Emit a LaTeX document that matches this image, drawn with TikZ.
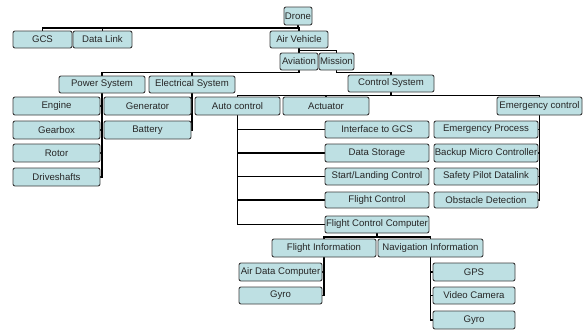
\documentclass[tikz,border=0pt]{standalone}
\usepackage{fontspec}
\setmainfont{Liberation Sans}
\pgfdeclarelayer{bg}
\pgfdeclarelayer{paper}
\pgfsetlayers{paper,bg,main}
\definecolor{boxfill}{RGB}{190,224,227}
\definecolor{boxline}{RGB}{60,60,60}
\newcommand{\mybox}[6]{%
  \node[box, minimum width={(#4-#2)*1pt}, minimum height={(#5-#3)*1pt}]
    (#1) at ({(#2+#4)/2},{(#3+#5)/2}) {#6};}
\begin{document}
\begin{tikzpicture}[x=1pt,y=-1pt,
  box/.style={draw=boxline, fill=boxfill, rounded corners=2pt, line width=0.9pt,
    inner sep=0pt, outer sep=0pt, font=\fontsize{9.6}{11}\selectfont, text=black!85},
  conn/.style={line width=1.6pt, black}]
\begin{pgfonlayer}{paper}
\fill[white] (0,0) rectangle (584,330);
\end{pgfonlayer}
\useasboundingbox (0,0) rectangle (584,330);
\mybox{drone}{284}{7}{312}{25}{Drone}
\mybox{airv}{270}{31}{328}{48}{Air Vehicle}
\mybox{gcs}{13}{31}{72}{48}{GCS}
\mybox{dlink}{73}{31}{132}{48}{Data Link}
\mybox{avia}{280}{53}{318}{70}{Aviation}
\mybox{mission}{319}{53}{354}{70}{Mission}
\mybox{power}{59}{76}{145}{93}{Power System}
\mybox{elec}{149}{76}{235}{93}{Electrical System}
\mybox{ctrl}{348}{75}{434}{92}{Control System}
\mybox{engine}{13}{97}{100}{115}{Engine}
\mybox{gen}{104}{97}{191}{115}{Generator}
\mybox{auto}{195}{97}{280}{115}{Auto control}
\mybox{actu}{283}{97}{369}{115}{Actuator}
\mybox{emerg}{497}{97}{582}{115}{Emergency control}
\mybox{gear}{13}{121}{100}{139}{Gearbox}
\mybox{batt}{104}{121}{191}{139}{Battery}
\mybox{rotor}{13}{144}{100}{162}{Rotor}
\mybox{drive}{13}{168}{100}{186}{Driveshafts}
\mybox{iface}{325}{121}{429}{138}{Interface to GCS}
\mybox{dstor}{325}{144}{429}{162}{Data Storage}
\mybox{start}{325}{168}{429}{185}{Start/Landing Control}
\mybox{fctrl}{325}{192}{429}{208}{Flight Control}
\mybox{fcc}{325}{216}{429}{233}{Flight Control Computer}
\mybox{eproc}{434}{121}{538}{138}{Emergency Process}
\mybox{backup}{434}{144}{538}{162}{Backup Micro Controller}
\mybox{safety}{434}{168}{538}{185}{Safety Pilot Datalink}
\mybox{obst}{434}{192}{538}{208}{Obstacle Detection}
\mybox{fi}{272}{239}{376}{257}{Flight Information}
\mybox{ni}{378}{239}{483}{257}{Navigation Information}
\mybox{adc}{239}{263}{322}{281}{Air Data Computer}
\mybox{gyroa}{239}{287}{322}{304}{Gyro}
\mybox{gps}{433}{263}{515}{281}{GPS}
\mybox{video}{433}{287}{515}{304}{Video Camera}
\mybox{gyrob}{433}{311}{515}{329}{Gyro}
\coordinate (b1) at (0,28);
\coordinate (b2) at (0,50.5);
\coordinate (b3) at (0,72.5);
\coordinate (b4) at (0,95.5);
\coordinate (b5) at (0,237);
\begin{pgfonlayer}{bg}
% Drone
\draw[conn] (gcs.north) -- (gcs.north|-b1) -- (airv.north|-b1) -- (airv.north);
\draw[conn] (dlink.north) -- (dlink.north|-b1);
\draw[conn] (drone.south) -- (drone.south|-b1);
% Air Vehicle
\draw[conn] (avia.north) -- (avia.north|-b2) -- (mission.north|-b2) -- (mission.north);
\draw[conn] (airv.south) -- (airv.south|-b2);
% Aviation
\draw[conn] (power.north) -- (power.north|-b3) -- (avia.south|-b3) -- (avia.south);
\draw[conn] (elec.north) -- (elec.north|-b3);
% Mission
\draw[conn] (mission.south) -- (mission.south|-b3) -- (ctrl.north|-b3) -- (ctrl.north);
% Control System
\draw[conn] (auto.north) -- (auto.north|-b4) -- (emerg.north|-b4) -- (emerg.north);
\draw[conn] (actu.north) -- (actu.north|-b4);
\draw[conn] (ctrl.south) -- (ctrl.south|-b4);
% Power System
\draw[conn] (power.south) |- (drive.east);
\draw[conn] (engine.east) -- (engine.east-|power.south);
\draw[conn] (gear.east) -- (gear.east-|power.south);
\draw[conn] (rotor.east) -- (rotor.east-|power.south);
% Electrical System
\draw[conn] (elec.south) |- (batt.east);
\draw[conn] (gen.east) -- (gen.east-|elec.south);
% Auto control
\draw[conn] (auto.south) |- (fcc.west);
\draw[conn] (auto.south|-iface.west) -- (iface.west);
\draw[conn] (auto.south|-dstor.west) -- (dstor.west);
\draw[conn] (auto.south|-start.west) -- (start.west);
\draw[conn] (auto.south|-fctrl.west) -- (fctrl.west);
% Emergency control
\draw[conn] (emerg.south) |- (obst.east);
\draw[conn] (eproc.east) -- (eproc.east-|emerg.south);
\draw[conn] (backup.east) -- (backup.east-|emerg.south);
\draw[conn] (safety.east) -- (safety.east-|emerg.south);
% Flight Control Computer
\draw[conn] (fi.north) -- (fi.north|-b5) -- (ni.north|-b5) -- (ni.north);
\draw[conn] (fcc.south) -- (fcc.south|-b5);
% Flight Information
\draw[conn] (fi.south) |- (gyroa.east);
\draw[conn] (adc.east) -- (adc.east-|fi.south);
% Navigation Information
\draw[conn] (ni.south) |- (gyrob.west);
\draw[conn] (gps.west) -- (gps.west-|ni.south);
\draw[conn] (video.west) -- (video.west-|ni.south);
\end{pgfonlayer}
\end{tikzpicture}
\end{document}
